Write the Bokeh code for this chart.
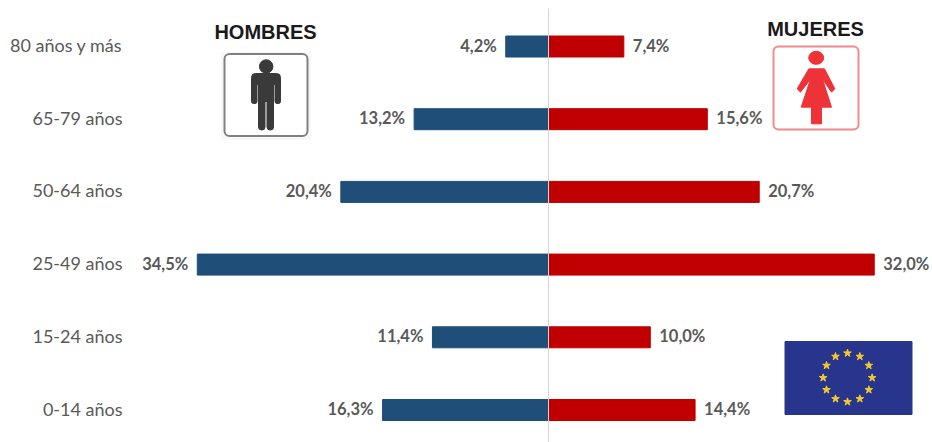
from bokeh.plotting import figure
from bokeh.models import Range1d, FixedTicker, Span
from bokeh.core.properties import value
from bokeh.embed import file_html
from bokeh.resources import INLINE

categories = ["0-14 años", "15-24 años", "25-49 años", "50-64 años", "65-79 años", "80 años y más"]
hombres = [16.3, 11.4, 34.5, 20.4, 13.2, 4.2]
mujeres = [14.4, 10.0, 32.0, 20.7, 15.6, 7.4]
tick_pos = list(range(len(categories)))

BLUE = "#1f4e79"
RED = "#c00000"
GREY = "#595959"
FONT = "Lato"

# Scale: 10.18 px per percentage point, zero at x=548 on the page
X0, PXU = 548, 10.18
LEFT, RIGHT, TOP, BOT = 130, 932, 8, 442
STEP = 72.7
LABEL_NUDGE = 0.02  # lifts the category labels about 1.5 px onto the bar centres

p = figure(width=932, height=442, output_backend="svg", toolbar_location=None,
           x_range=Range1d((LEFT - X0) / PXU, (RIGHT - X0) / PXU),
           y_range=Range1d(-(BOT - 409.5) / STEP, 5 + (46 - TOP) / STEP),
           min_border_left=LEFT, min_border_right=0, min_border_top=TOP, min_border_bottom=0,
           x_axis_location=None)
p.outline_line_color = None
p.grid.visible = False
p.background_fill_color = "white"
p.border_fill_color = "white"

ax = p.yaxis[0]
ax.ticker = FixedTicker(ticks=[i + LABEL_NUDGE for i in tick_pos])
ax.major_label_overrides = {i + LABEL_NUDGE: c for i, c in zip(tick_pos, categories)}
ax.axis_line_color = None
ax.major_tick_line_color = None
ax.minor_tick_line_color = None
ax.major_tick_out = 0
ax.major_label_standoff = 8
ax.major_label_text_font = FONT
ax.major_label_text_font_size = "18px"
ax.major_label_text_color = GREY

# Decorations are placed in page pixels through a second pair of ranges
p.extra_x_ranges = {"px": Range1d(LEFT, RIGHT)}
p.extra_y_ranges = {"px": Range1d(BOT, TOP)}
PX = dict(x_range_name="px", y_range_name="px")

p.add_layout(Span(location=0, dimension="height", line_color="#d4d4d4", line_width=1))

BAR_H = 21 / STEP
p.hbar(y=tick_pos, left=[-v for v in hombres], right=0, height=BAR_H, color=BLUE)
p.hbar(y=tick_pos, left=0, right=mujeres, height=BAR_H, color=RED)

fmt = lambda v: f"{v:.1f}%".replace(".", ",")
lab = dict(text_font=value(FONT), text_font_style="bold", text_font_size="16.5px",
           text_color=GREY, text_baseline="middle", y_offset=-1)
p.text(x=[-v for v in hombres], y=tick_pos, text=[fmt(v) for v in hombres],
       text_align="right", x_offset=-9, **lab)
p.text(x=mujeres, y=tick_pos, text=[fmt(v) for v in mujeres],
       text_align="left", x_offset=9, **lab)

# HOMBRES pictogram
title = dict(text_font=value("Liberation Sans"), text_font_style="bold", text_font_size="20px",
             text_color="#1a1a1a", text_align="center", text_baseline="middle")
p.text(x=[265], y=[31], text=["HOMBRES"], **title, **PX)
p.quad(left=[221], right=[310], top=[52], bottom=[139], color="#f7f7f7", **PX)
p.quad(left=[224], right=[307], top=[53.5], bottom=[135.5], fill_color="white",
       line_color="#808080", line_width=2, border_radius=5, **PX)
M = "#3a3a3a"
p.ellipse(x=[265.7], y=[66], width=[13.5], height=[13.5], color=M, **PX)
p.quad(left=[251], right=[280], top=[73], bottom=[84], color=M, border_radius=4, **PX)
p.quad(left=[251], right=[256.5], top=[78], bottom=[103], color=M, border_radius=2, **PX)
p.quad(left=[274.5], right=[280], top=[78], bottom=[103], color=M, border_radius=2, **PX)
p.quad(left=[258], right=[273], top=[75], bottom=[101], color=M, **PX)
p.quad(left=[258], right=[264.5], top=[98], bottom=[129.5], color=M, border_radius=3, **PX)
p.quad(left=[266.5], right=[273], top=[98], bottom=[129.5], color=M, border_radius=3, **PX)

# MUJERES pictogram
p.text(x=[815], y=[28], text=["MUJERES"], **title, **PX)
p.quad(left=[773], right=[858], top=[46], bottom=[129], fill_color="white",
       line_color="#f08a8c", line_width=2, border_radius=5, **PX)
W = "#ee3338"
p.ellipse(x=[815.7], y=[57.3], width=[15], height=[13], color=W, **PX)
zx = [175, 222, 253, 243, 216, 243, 213, 213, 183, 183, 152, 180, 150, 140]
zy = [175, 175, 235, 245, 206, 290, 290, 340, 340, 290, 290, 206, 245, 235]
p.patch(x=[750 + v / 3 for v in zx], y=[10 + v / 3 for v in zy], color=W, **PX)

# EU flag
p.quad(left=[784.5], right=[911.5], top=[341], bottom=[414], color="#28358c", **PX)
sx = [231, 268, 295, 305, 295, 268, 231, 195, 168, 158, 168, 195]
sy = [68, 78, 105, 142, 178, 205, 214, 205, 178, 142, 105, 78]
p.scatter(x=[770 + v / 3 for v in sx], y=[330 + v / 3 for v in sy], marker="star", size=8,
          color="#f4c92f", **PX)

open("out.html", "w").write(file_html(p, INLINE))
